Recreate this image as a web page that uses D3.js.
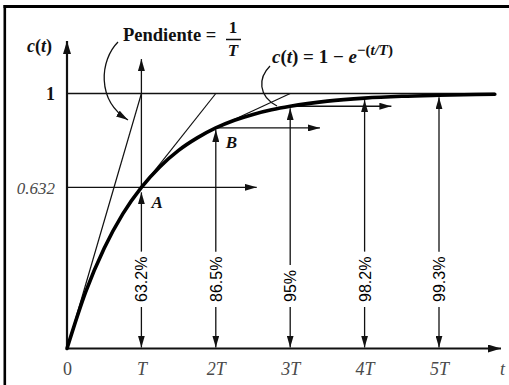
<!DOCTYPE html>
<html>
<head>
<meta charset="utf-8">
<script src="https://cdn.jsdelivr.net/npm/d3@7"></script>
<style>
  body { margin: 0; background: #fff; }
  svg { display: block; }
</style>
</head>
<body>
<svg id="chart" width="509" height="385"></svg>
<script>
// Time in multiples of the time constant T, and the labels shown under the axis
const multiples = [0, 1, 2, 3, 4, 5];
const tickLabels = ["0", "T", "2T", "3T", "4T", "5T"];

// Labelled levels on the vertical axis
const levelTicks = [0.632, 1];
const levelLabels = ["0.632", "1"];

// Response curve c(t), sampled every quarter of T (t in units of T)
const curveT = [0, 0.25, 0.5, 0.75, 1, 1.25, 1.5, 1.75, 2, 2.25, 2.5, 2.75, 3, 3.5, 4, 4.5, 5, 5.5, 5.75];
const curveC = [0, 0.221, 0.393, 0.528, 0.632, 0.713, 0.777, 0.826, 0.865, 0.895, 0.918, 0.936, 0.950, 0.970, 0.982, 0.989, 0.993, 0.996, 0.997];

// Percentage reached at each multiple of T
const settleT = [1, 2, 3, 4, 5];
const settleC = [0.632, 0.865, 0.950, 0.982, 0.993];
const settleLabels = ["63.2%", "86.5%", "95%", "98.2%", "99.3%"];

// Tangent lines: start point on the curve, end point where they reach 1
const tangentT = [0, 1, 2];
const tangentC = [0, 0.632, 0.865];
const tangentEndT = [1, 2, 3];

// Horizontal arrows marking levels
const levelFrom = [0, 2, 3];
const levelValue = [0.632, 0.865, 0.950];
const levelTo = [2.55, 3.4, 4.36];

const svg = d3.select("#chart");
const x = d3.scaleLinear().domain([0, 5]).range([67, 439]);
const y = d3.scaleLinear().domain([0, 1]).range([348.5, 93.5]);

const ink = "#111";
const grey = "#4a4a4a";
const serif = "'Liberation Serif', 'Times New Roman', serif";
const sans = "'Liberation Sans', Arial, sans-serif";

// Arrowhead markers
const defs = svg.append("defs");
function marker(id, len, wid) {
  defs.append("marker")
    .attr("id", id)
    .attr("markerUnits", "userSpaceOnUse")
    .attr("viewBox", `0 0 ${len} ${wid}`)
    .attr("markerWidth", len).attr("markerHeight", wid)
    .attr("refX", len).attr("refY", wid / 2)
    .attr("orient", "auto")
    .append("path")
    .attr("d", `M0,0 L${len},${wid / 2} L0,${wid} Z`)
    .attr("fill", ink);
}
marker("arr", 12, 7);
marker("axarr", 13, 8);

// Frame (top and left edges)
svg.append("line").attr("x1", 3.5).attr("x2", 509).attr("y1", 6.5).attr("y2", 6.5)
  .attr("stroke", "#000").attr("stroke-width", 3);
svg.append("line").attr("x1", 4.8).attr("x2", 4.8).attr("y1", 5).attr("y2", 385)
  .attr("stroke", "#000").attr("stroke-width", 2.6);

// Axes
svg.append("line").attr("x1", x(0)).attr("x2", 501).attr("y1", y(0)).attr("y2", y(0))
  .attr("stroke", ink).attr("stroke-width", 2.2).attr("marker-end", "url(#axarr)");
svg.append("line").attr("x1", x(0)).attr("x2", x(0)).attr("y1", y(0)).attr("y2", 41)
  .attr("stroke", ink).attr("stroke-width", 2.2).attr("marker-end", "url(#axarr)");

// Tick labels along t
const gx = svg.append("g").attr("transform", "translate(0,375)")
  .call(d3.axisBottom(x).tickValues(multiples).tickSize(0).tickPadding(0)
    .tickFormat((d, i) => tickLabels[i]));
gx.select(".domain").remove();
gx.selectAll("text")
  .attr("dy", 0)
  .attr("font-family", serif)
  .attr("font-size", 18)
  .attr("font-style", (d, i) => i === 0 ? "normal" : "italic")
  .attr("fill", grey);

// Level labels on c(t)
const gy = svg.append("g").attr("transform", "translate(55,0)")
  .call(d3.axisLeft(y).tickValues(levelTicks).tickSize(0).tickPadding(0)
    .tickFormat((d, i) => levelLabels[i]));
gy.select(".domain").remove();
gy.selectAll("text")
  .attr("dy", "0.36em")
  .attr("font-family", serif)
  .attr("font-size", (d, i) => i === 0 ? 17 : 18)
  .attr("font-style", (d, i) => i === 0 ? "italic" : "normal")
  .attr("font-weight", (d, i) => i === 0 ? "normal" : "bold")
  .attr("fill", (d, i) => i === 0 ? grey : ink);

// Axis names
svg.append("text").attr("x", 500).attr("y", 375)
  .attr("font-family", serif).attr("font-size", 18).attr("font-style", "italic")
  .attr("fill", grey).text("t");
const cLab = svg.append("text").attr("x", 27).attr("y", 52)
  .attr("font-family", serif).attr("font-size", 18).attr("font-weight", "bold").attr("fill", ink);
cLab.append("tspan").attr("font-style", "italic").text("c");
cLab.append("tspan").text("(");
cLab.append("tspan").attr("font-style", "italic").text("t");
cLab.append("tspan").text(")");

// Final value line at 1
svg.append("line")
  .attr("x1", x(0)).attr("x2", x(curveT[curveT.length - 1]))
  .attr("y1", y(1)).attr("y2", y(1))
  .attr("stroke", ink).attr("stroke-width", 1.3);

// Tangent lines
tangentT.forEach((t, i) => {
  svg.append("line")
    .attr("x1", x(t)).attr("y1", y(tangentC[i]))
    .attr("x2", x(tangentEndT[i])).attr("y2", y(1))
    .attr("stroke", ink).attr("stroke-width", 1.2);
});

// Horizontal level arrows
levelFrom.forEach((t, i) => {
  svg.append("line")
    .attr("x1", x(t)).attr("x2", x(levelTo[i]))
    .attr("y1", y(levelValue[i])).attr("y2", y(levelValue[i]))
    .attr("stroke", ink).attr("stroke-width", 1.3)
    .attr("marker-end", "url(#arr)");
});

// Vertical arrows with percentage labels
const labelBase = 302;
settleT.forEach((t, i) => {
  const cx = x(t);
  const txt = svg.append("text")
    .attr("transform", `translate(${cx + 6},${labelBase}) rotate(-90)`)
    .attr("font-family", sans).attr("font-size", 16).attr("fill", "#000")
    .text(settleLabels[i]);
  const len = txt.node().getComputedTextLength();
  const top = labelBase - len - 5;
  // up to the curve
  svg.append("line")
    .attr("x1", cx).attr("x2", cx).attr("y1", top).attr("y2", y(settleC[i]) + (i === 0 ? 5 : 2))
    .attr("stroke", ink).attr("stroke-width", 1.3).attr("marker-end", "url(#arr)");
  // down to the time axis
  svg.append("line")
    .attr("x1", cx).attr("x2", cx).attr("y1", labelBase + 5).attr("y2", y(0) - 1)
    .attr("stroke", ink).attr("stroke-width", 1.3).attr("marker-end", "url(#arr)");
});

// Line from A up past the final value
svg.append("line")
  .attr("x1", x(1)).attr("x2", x(1)).attr("y1", y(0.632)).attr("y2", y(1.135))
  .attr("stroke", ink).attr("stroke-width", 1.3).attr("marker-end", "url(#arr)");

// Response curve
const line = d3.line().x(d => x(d[0])).y(d => y(d[1])).curve(d3.curveMonotoneX);
svg.append("path")
  .datum(curveT.map((t, i) => [t, curveC[i]]))
  .attr("d", line)
  .attr("fill", "none").attr("stroke", "#000").attr("stroke-width", 3.6)
  .attr("stroke-linecap", "round");

// Point names
svg.append("text").attr("x", x(1) + 10).attr("y", y(0.632) + 21)
  .attr("font-family", serif).attr("font-size", 17).attr("font-style", "italic")
  .attr("font-weight", "bold").attr("fill", ink).text("A");
svg.append("text").attr("x", x(2) + 10).attr("y", y(0.865) + 20)
  .attr("font-family", serif).attr("font-size", 17).attr("font-style", "italic")
  .attr("font-weight", "bold").attr("fill", ink).text("B");

// Slope annotation
svg.append("text").attr("x", 123).attr("y", 41)
  .attr("font-family", serif).attr("font-size", 18.5).attr("font-weight", "bold")
  .attr("fill", ink).text("Pendiente =");
svg.append("text").attr("x", 233).attr("y", 33).attr("text-anchor", "middle")
  .attr("font-family", serif).attr("font-size", 17).attr("font-weight", "bold")
  .attr("fill", ink).text("1");
svg.append("line").attr("x1", 226).attr("x2", 241).attr("y1", 39.5).attr("y2", 39.5)
  .attr("stroke", ink).attr("stroke-width", 1.5);
svg.append("text").attr("x", 233).attr("y", 56).attr("text-anchor", "middle")
  .attr("font-family", serif).attr("font-size", 17).attr("font-weight", "bold")
  .attr("font-style", "italic").attr("fill", ink).text("T");
svg.append("path")
  .attr("d", "M118,42 C100,60 96,100 128,120")
  .attr("fill", "none").attr("stroke", ink).attr("stroke-width", 1.3)
  .attr("marker-end", "url(#arr)");

// Curve equation annotation
const eq = svg.append("text").attr("x", 272).attr("y", 63)
  .attr("font-family", serif).attr("font-size", 19).attr("font-weight", "bold").attr("fill", ink);
eq.append("tspan").attr("font-style", "italic").text("c");
eq.append("tspan").text("(");
eq.append("tspan").attr("font-style", "italic").text("t");
eq.append("tspan").text(") = 1 \u2212 ");
eq.append("tspan").attr("font-style", "italic").text("e");
const sup = eq.append("tspan").attr("dy", -8).attr("font-size", 15);
sup.append("tspan").text("\u2212(");
sup.append("tspan").attr("font-style", "italic").text("t/T");
sup.append("tspan").text(")");
svg.append("path")
  .attr("d", "M270,66 C258,78 258,96 277,106")
  .attr("fill", "none").attr("stroke", ink).attr("stroke-width", 1.3);
</script>
</body>
</html>
